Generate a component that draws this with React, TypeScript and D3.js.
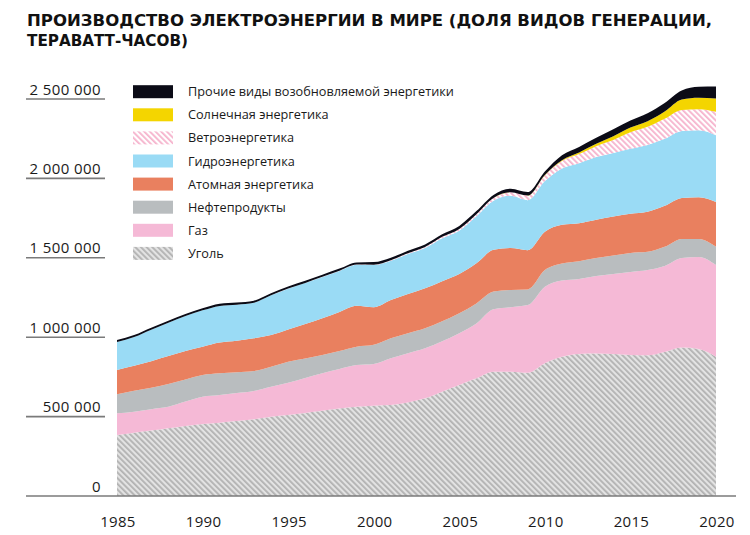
import React from "react";
import * as d3 from "d3";

const years = [1985,1986,1987,1988,1989,1990,1991,1992,1993,1994,1995,1996,1997,1998,1999,2000,2001,2002,2003,2004,2005,2006,2007,2008,2009,2010,2011,2012,2013,2014,2015,2016,2017,2018,2019,2020];

const coal = [384000,399000,412000,426000,441000,453000,462000,472000,483000,499000,510000,523000,537000,551000,562000,569000,573000,589000,615000,657000,699000,741000,783000,783000,776000,836000,877000,894000,897000,894000,888000,886000,907000,935000,926000,877000];
const gas = [137000,132000,135000,136000,154000,172000,174000,176000,178000,189000,203000,220000,236000,249000,263000,263000,294000,310000,315000,318000,326000,346000,393000,406000,426000,482000,480000,472000,488000,504000,523000,537000,542000,564000,579000,577000];
const oil = [120000,132000,135000,143000,139000,137000,137000,132000,126000,126000,132000,123000,115000,113000,115000,120000,126000,126000,126000,126000,126000,126000,111000,109000,99000,105000,107000,113000,113000,116000,120000,115000,120000,120000,113000,115000];
const nuclear = [153000,157000,167000,176000,179000,178000,193000,198000,206000,200000,204000,217000,231000,246000,258000,237000,241000,247000,252000,252000,247000,252000,263000,263000,247000,241000,244000,239000,242000,246000,246000,252000,258000,258000,264000,283000];
const hydro = [176000,181000,198000,210000,220000,229000,231000,227000,224000,250000,256000,258000,260000,258000,258000,265000,247000,252000,254000,270000,273000,297000,310000,329000,315000,319000,355000,378000,394000,400000,409000,420000,422000,422000,422000,420000];
const wind = [0,0,0,0,0,0,0,0,0,0,1000,1000,1000,2000,2000,3000,4000,5000,6000,9000,11000,13000,17000,22000,28000,36000,46000,57000,69000,82000,104000,115000,126000,132000,132000,147000];
const solar = [0,0,0,0,0,0,0,0,0,0,0,0,0,0,0,0,0,0,0,0,0,0,0,1000,1000,3000,6000,10000,15000,24000,30000,35000,46000,66000,72000,84000];
const other = [13000,13000,13000,13000,13000,13000,13000,13000,13000,13000,13000,13000,13000,13000,13000,16000,16000,16000,16000,16000,19000,19000,19000,22000,22000,22000,31000,35000,38000,44000,44000,50000,54000,57000,69000,76000];

const seriesKeys = ["coal", "gas", "oil", "nuclear", "hydro", "wind", "solar", "other"];
const seriesData: Record<string, number[]> = { coal, gas, oil, nuclear, hydro, wind, solar, other };

const legendLabels = [
  "Прочие виды возобновляемой энергетики",
  "Солнечная энергетика",
  "Ветроэнергетика",
  "Гидроэнергетика",
  "Атомная энергетика",
  "Нефтепродукты",
  "Газ",
  "Уголь",
];
const legendKeys = ["other", "solar", "wind", "hydro", "nuclear", "oil", "gas", "coal"];

const yTicks = [0, 500000, 1000000, 1500000, 2000000, 2500000];
const yTickLabels = ["0", "500 000", "1 000 000", "1 500 000", "2 000 000", "2 500 000"];
const xTicks = [1985, 1990, 1995, 2000, 2005, 2010, 2015, 2020];

const fills: Record<string, string> = {
  coal: "url(#coalPat)",
  gas: "#f5b9d6",
  oil: "#b9bdbf",
  nuclear: "#e9805f",
  hydro: "#9adbf5",
  wind: "url(#windPat)",
  solar: "#f4d500",
  other: "#0b0b16",
};

export default function App() {
  const W = 750, H = 535;
  const x = d3.scaleLinear().domain([1985, 2020]).range([117, 716]);
  const y = d3.scaleLinear().domain([0, 2500000]).range([496, 99]);

  const table = years.map((yr, i) => {
    const row: any = { year: yr };
    seriesKeys.forEach((k) => (row[k] = seriesData[k][i]));
    return row;
  });
  const stacked = d3.stack<any>().keys(seriesKeys)(table);
  const area = d3
    .area<any>()
    .x((d) => x(d.data.year))
    .y0((d) => y(d[0]))
    .y1((d) => y(d[1]))
    .curve(d3.curveMonotoneX);

  const font = "'Open Sans', 'DejaVu Sans', sans-serif";

  return (
    <svg width={W} height={H} style={{ position: "absolute", left: 0, top: 0, background: "#fff" }}>
      <defs>
        <pattern id="coalPat" patternUnits="userSpaceOnUse" width="4" height="4" patternTransform="rotate(-45)">
          <rect width="4" height="4" fill="#e3e3e3" />
          <rect width="1.8" height="4" fill="#b2b2b2" />
        </pattern>
        <pattern id="windPat" patternUnits="userSpaceOnUse" width="4" height="4" patternTransform="rotate(-45)">
          <rect width="4" height="4" fill="#ffffff" />
          <rect width="1.8" height="4" fill="#f6b3cd" />
        </pattern>
      </defs>
      <rect width={W} height={H} fill="#fff" />

      <text x={27} y={26} fontFamily="'DejaVu Sans', sans-serif" fontWeight={700} fontSize={15.5} fill="#111" textLength={685} lengthAdjust="spacingAndGlyphs">
        ПРОИЗВОДСТВО ЭЛЕКТРОЭНЕРГИИ В МИРЕ (ДОЛЯ ВИДОВ ГЕНЕРАЦИИ,
      </text>
      <text x={27} y={46} fontFamily="'DejaVu Sans', sans-serif" fontWeight={700} fontSize={15.5} fill="#111" textLength={161} lengthAdjust="spacingAndGlyphs">
        ТЕРАВАТТ-ЧАСОВ)
      </text>

      {stacked.map((s) => (
        <path key={s.key} d={area(s) || ""} fill={fills[s.key]} />
      ))}

      {yTicks.map((t, i) => (
        <g key={t}>
          <line x1={26} x2={t === 0 ? 736 : 105} y1={y(t)} y2={y(t)} stroke="#7a7a7a" strokeWidth={1.6} />
          <text x={101} y={y(t) - 4.5} textAnchor="end" fontFamily={font} fontWeight={500} fontSize={15} letterSpacing={0.4} fill="#1a1a1a">
            {yTickLabels[i]}
          </text>
        </g>
      ))}

      {xTicks.map((t) => (
        <text key={t} x={x(t) + 1} y={527} textAnchor="middle" fontFamily={font} fontWeight={500} fontSize={15} letterSpacing={0.3} fill="#1a1a1a">
          {t}
        </text>
      ))}

      {legendKeys.map((k, i) => {
        const cy = 91.7 + i * 23.1;
        return (
          <g key={k}>
            <rect x={133} y={cy - 6.5} width={40} height={13} fill={fills[k]} />
            <text x={188} y={cy + 4.5} fontFamily={font} fontWeight={500} fontSize={12.7} fill="#1a1a1a">
              {legendLabels[i]}
            </text>
          </g>
        );
      })}
    </svg>
  );
}
